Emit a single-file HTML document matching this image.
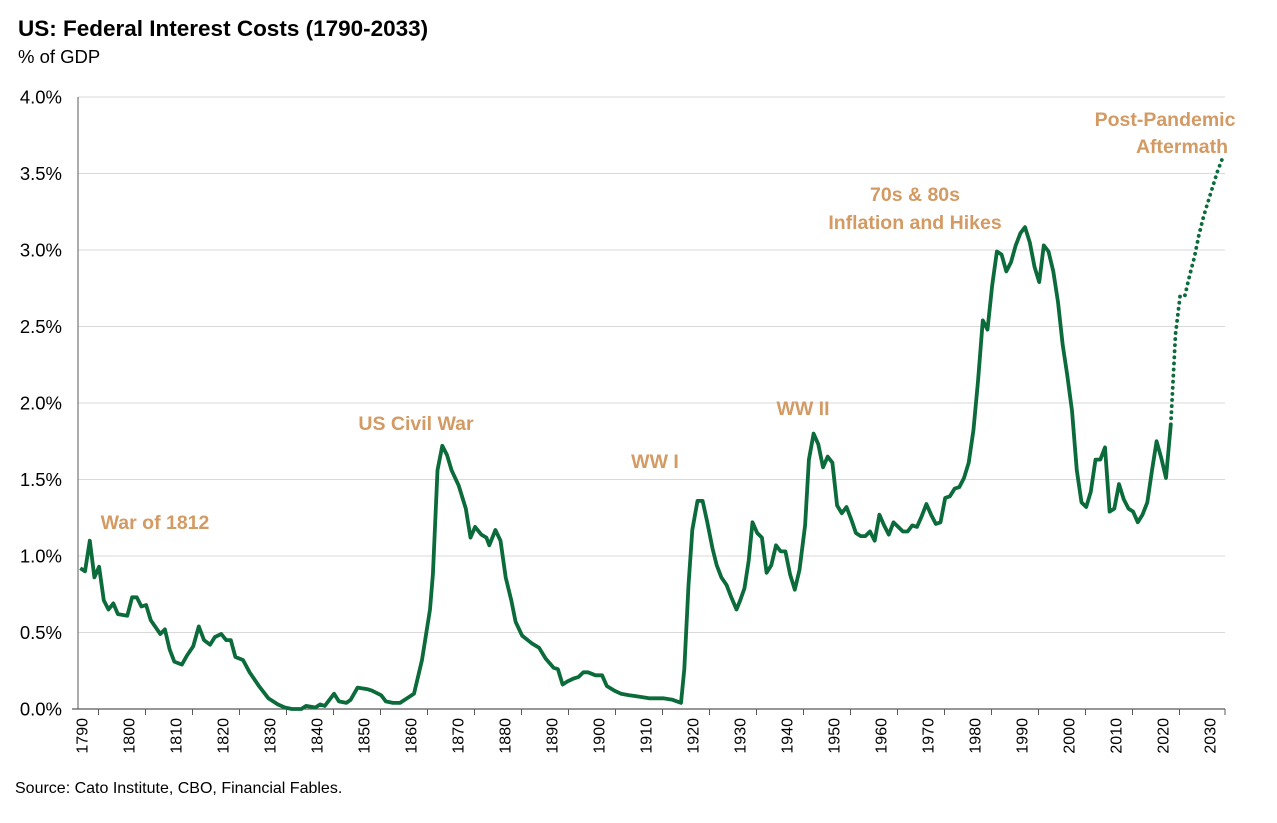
<!DOCTYPE html>
<html><head><meta charset="utf-8"><style>
body{margin:0;background:#fff;}
svg text{font-family:"Liberation Sans",sans-serif;}
</style></head><body>
<svg id="chart" width="1277" height="818" viewBox="0 0 1277 818" xmlns="http://www.w3.org/2000/svg">
<text x="18" y="36" font-size="22.5" font-weight="bold" fill="#000">US: Federal Interest Costs (1790-2033)</text>
<text x="18" y="63" font-size="18.5" fill="#000">% of GDP</text>
<g id="grid"></g><g id="axes"></g><g id="series"></g>
<g font-size="19.5" font-weight="bold" fill="#D39A63" text-anchor="middle">
<text x="155" y="529">War of 1812</text>
<text x="416" y="430">US Civil War</text>
<text x="655" y="468">WW I</text>
<text x="803" y="415">WW II</text>
<text x="915" y="201">70s &amp; 80s</text>
<text x="915" y="229">Inflation and Hikes</text>
<text x="1165" y="126">Post-Pandemic</text>
<text x="1182" y="153">Aftermath</text>
</g>
<text x="15" y="793" font-size="16" fill="#000">Source: Cato Institute, CBO, Financial Fables.</text>
</svg>
<script>
const histYears=[1790,1791,1792,1793,1794,1795,1796,1797,1798,1800,1801,1802,1803,1804,1805,1807,1808,1809,1810,1811.6,1812.7,1814,1815.2,1816.3,1817.6,1818.6,1820,1821,1822,1823,1824.6,1826,1828,1830,1832,1833.5,1835,1837,1838,1840,1841,1842,1844,1845,1846.6,1847.5,1849,1851,1852,1854,1855,1856.5,1858,1859.5,1861,1862.7,1864.4,1865,1866,1867,1868,1869,1870.5,1872,1873,1874,1875.3,1876.4,1877,1878.3,1879.4,1880.5,1881.7,1882.6,1884,1886,1887.6,1889,1890.7,1891.6,1892.6,1893.6,1895,1896,1897,1898,1899.6,1901,1902,1903.6,1905,1906.8,1909,1911,1914,1916,1917.8,1918.5,1919.4,1920.2,1921.3,1922.4,1923.4,1924.5,1925.4,1926.4,1927.5,1928.5,1929.6,1930.4,1931.3,1932.2,1933,1934,1935,1936,1937,1938,1939,1940,1941,1942,1943,1944.2,1945,1946,1947,1948,1949,1950,1951,1952,1953,1954,1955,1956,1957,1958,1959,1960,1961,1962,1963,1964,1965,1966,1967,1968,1969,1970,1971,1972,1973,1974,1975,1976,1977,1978,1979,1980,1981,1982,1983,1984,1985,1986,1987,1988,1989,1990,1991,1992,1993,1994,1995,1996,1997,1998,1999,2000,2001,2002,2003,2004,2005,2006,2007,2008,2009,2010,2011,2012,2013,2014,2015,2016,2017,2018,2019,2020,2021,2022];
const histValues=[0.92,0.90,1.10,0.86,0.93,0.71,0.65,0.69,0.62,0.61,0.73,0.73,0.67,0.68,0.58,0.49,0.52,0.39,0.31,0.29,0.35,0.41,0.54,0.45,0.42,0.47,0.49,0.45,0.45,0.34,0.32,0.24,0.15,0.07,0.03,0.01,0.0,0.0,0.02,0.01,0.03,0.02,0.10,0.05,0.04,0.06,0.14,0.13,0.12,0.09,0.05,0.04,0.04,0.07,0.10,0.32,0.65,0.88,1.56,1.72,1.66,1.56,1.46,1.31,1.12,1.19,1.14,1.12,1.07,1.17,1.10,0.86,0.71,0.57,0.48,0.43,0.40,0.33,0.27,0.26,0.16,0.18,0.20,0.21,0.24,0.24,0.22,0.22,0.15,0.12,0.10,0.09,0.08,0.07,0.07,0.06,0.04,0.26,0.81,1.17,1.36,1.36,1.22,1.05,0.94,0.86,0.81,0.73,0.65,0.71,0.79,0.97,1.22,1.15,1.12,0.89,0.94,1.07,1.03,1.03,0.88,0.78,0.91,1.20,1.63,1.80,1.73,1.58,1.65,1.61,1.33,1.28,1.32,1.24,1.15,1.13,1.13,1.16,1.10,1.27,1.20,1.14,1.22,1.19,1.16,1.16,1.20,1.19,1.26,1.34,1.27,1.21,1.22,1.38,1.39,1.44,1.45,1.51,1.61,1.82,2.15,2.54,2.48,2.77,2.99,2.97,2.86,2.92,3.03,3.11,3.15,3.05,2.89,2.79,3.03,2.99,2.86,2.66,2.38,2.18,1.95,1.56,1.35,1.32,1.42,1.63,1.63,1.71,1.29,1.31,1.47,1.37,1.31,1.29,1.22,1.27,1.35,1.56,1.75,1.64,1.51,1.86];
const projYears=[2022,2023,2024,2025,2026,2027,2028,2029,2030,2031,2032,2033];
const projValues=[1.86,2.45,2.70,2.70,2.83,2.95,3.10,3.22,3.32,3.42,3.52,3.60];
const yTicks=[0,0.5,1.0,1.5,2.0,2.5,3.0,3.5,4.0];
const xLabels=[1790,1800,1810,1820,1830,1840,1850,1860,1870,1880,1890,1900,1910,1920,1930,1940,1950,1960,1970,1980,1990,2000,2010,2020,2030];

const NS="http://www.w3.org/2000/svg";
const X0=78,X1=1225,Y0=709,PX=153,YR=4.7;
const xS=y=>X0+2.35+(y-1790)*YR;
const yS=v=>Y0-v*PX;
function mk(tag,attrs,parent){const e=document.createElementNS(NS,tag);for(const k in attrs)e.setAttribute(k,attrs[k]);parent.appendChild(e);return e;}
const grid=document.getElementById('grid'),axes=document.getElementById('axes'),series=document.getElementById('series');
yTicks.forEach(t=>{
  if(t>0){const g=mk('line',{x1:X0,x2:X1,y1:yS(t),y2:yS(t),stroke:'#d9d9d9','stroke-width':1},grid);
  
  }
  const l=mk('text',{x:62,y:yS(t)+6.5,'font-size':18.5,'text-anchor':'end',fill:'#000'},axes);
  l.textContent=t.toFixed(1)+'%';
  
  
});
const ya=mk('line',{x1:X0,x2:X0,y1:97,y2:Y0,stroke:'#595959','stroke-width':1},axes);


const xa=mk('line',{x1:X0-6,x2:X1,y1:Y0,y2:Y0,stroke:'#595959','stroke-width':1.2},axes);


for(let k=0;k<=24;k++){const tx=98.5+47*k;if(tx>X1+1)break;
  mk('line',{x1:tx,x2:tx,y1:Y0,y2:Y0+6,stroke:'#595959','stroke-width':1},axes);}
mk('line',{x1:X1,x2:X1,y1:Y0,y2:Y0+6,stroke:'#595959','stroke-width':1},axes);
xLabels.forEach(yr=>{
  const x=xS(yr)+7;
  const t=mk('text',{x:0,y:0,'font-size':16,'text-anchor':'end',fill:'#000',transform:`translate(${x},${Y0+9}) rotate(-90)`},axes);
  t.textContent=yr;
  
  
});
const hp=mk('path',{d:histYears.map((y,i)=>(i?'L':'M')+xS(y).toFixed(1)+','+yS(histValues[i]).toFixed(1)).join(''),fill:'none',stroke:'#0B6B3A','stroke-width':3.8,'stroke-linejoin':'round'},series);


const pp=mk('path',{d:projYears.map((y,i)=>(i?'L':'M')+xS(y).toFixed(1)+','+yS(projValues[i]).toFixed(1)).join(''),fill:'none',stroke:'#0B6B3A','stroke-width':3.8,'stroke-dasharray':'0.1 6','stroke-linecap':'round'},series);


</script>
</body></html>
